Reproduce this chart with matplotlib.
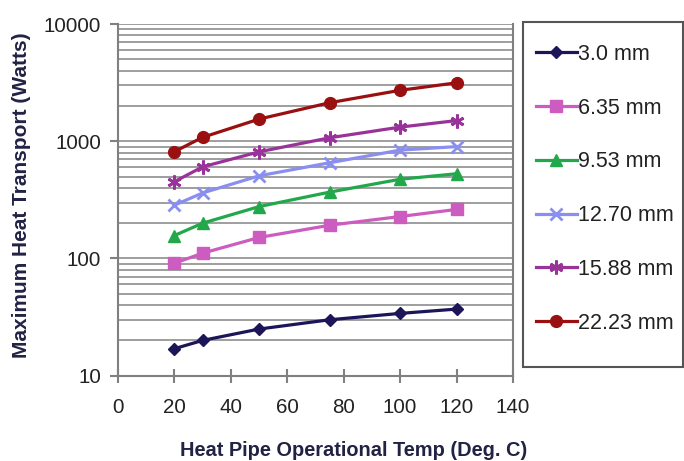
import numpy as np
import matplotlib
matplotlib.use('Agg')
import matplotlib.pyplot as plt
from matplotlib.patches import Rectangle
from matplotlib.ticker import FixedLocator, NullFormatter, NullLocator

plt.rcParams['font.family'] = ['Liberation Sans', 'DejaVu Sans']

# Temperatures (Deg. C)
temps = [20, 30, 50, 75, 100, 120]

# Heat transport (Watts) for each pipe diameter
d_30 = [17, 20, 25, 30, 34, 37]
d_635 = [91, 111, 151, 192, 228, 262]
d_953 = [157, 200, 277, 368, 474, 528]
d_1270 = [285, 362, 507, 655, 840, 900]
d_1588 = [452, 605, 812, 1070, 1320, 1500]
d_2223 = [815, 1080, 1545, 2130, 2720, 3150]

labels = ['3.0 mm', '6.35 mm', '9.53 mm', '12.70 mm', '15.88 mm', '22.23 mm']
series = [d_30, d_635, d_953, d_1270, d_1588, d_2223]
colors = ['#1c1658', '#cc5cbf', '#22a84a', '#8a8ef0', '#993399', '#9a1010']
markers = ['D', 's', '^', 'x', (6, 2, 0), 'o']
msizes = [6.5, 8.5, 8.5, 9, 10, 8.5]

fig = plt.figure(figsize=(6.84, 4.61), dpi=100)
ax = fig.add_axes([118/684, 1 - 375.7/461, (513-118)/684, (375.7-24)/461])

ax.set_yscale('log')
ax.set_ylim(10, 10000)
ax.set_xlim(0, 140)

# horizontal grid at every decade step
grid_vals = []
for dec in [10, 100, 1000]:
    for k in range(1, 10):
        grid_vals.append(dec * k)
grid_vals.append(10000)
for g in grid_vals[1:]:
    ax.axhline(g, color='#969696', lw=1.3, zorder=0)

for vals, lab, c, m, ms in zip(series, labels, colors, markers, msizes):
    ax.plot(temps, vals, color=c, lw=2.3, marker=m, markersize=ms,
            markeredgewidth=2 if m in ('x', (6, 2, 0)) else 1,
            markeredgecolor=c, label=lab, zorder=3)

ax.yaxis.set_major_locator(FixedLocator([10, 100, 1000, 10000]))
ax.yaxis.set_minor_locator(NullLocator())
ax.yaxis.set_minor_formatter(NullFormatter())
ax.set_yticklabels(['10', '100', '1000', '10000'])
ax.set_xticks(range(0, 141, 20))

ax.spines['top'].set_visible(False)
for s in ['left', 'bottom', 'right']:
    ax.spines[s].set_color('#808080')
    ax.spines[s].set_linewidth(1.5)

ax.tick_params(axis='y', direction='out', length=6, width=1.5, color='#808080',
               labelsize=14.8, labelcolor='#222222', pad=6)
ax.tick_params(axis='x', direction='inout', length=10, width=1.5, color='#808080',
               labelsize=14.8, labelcolor='#222222', pad=11)

fig.text(354/684, 1 - 450/461, 'Heat Pipe Operational Temp (Deg. C)', ha='center',
         va='center', fontsize=14.4, fontweight='bold', color='#222244')
fig.text(22/684, 1 - 195/461, 'Maximum Heat Transport (Watts)', ha='center',
         va='center', rotation=90, fontsize=15, fontweight='bold', color='#222244')

# legend box drawn separately so the entries can sit where the reference has them
fig.patches.append(Rectangle((523/684, 1 - 367/461), 160/684, 345/461,
                             transform=fig.transFigure, fill=False,
                             edgecolor='#555555', lw=1.5))
leg = fig.legend(loc='upper left', bbox_to_anchor=(536/684, 1 - 44/461),
                 fontsize=15.5, frameon=False,
                 labelspacing=1.52, handlelength=1.9, handletextpad=0.06,
                 borderpad=0, borderaxespad=0)
for t in leg.get_texts():
    t.set_color('#222222')

fig.savefig('out.png', dpi=100)
